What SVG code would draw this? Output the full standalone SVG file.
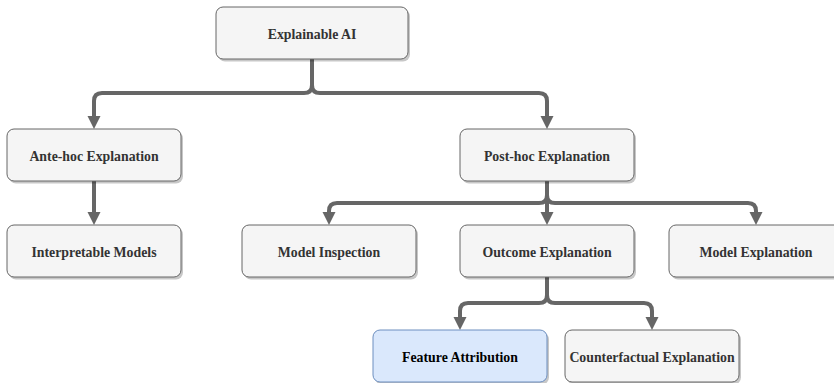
<svg xmlns="http://www.w3.org/2000/svg" width="834" height="383" viewBox="0 0 834 383">
<style>
.box{fill:#f5f5f5;stroke:#666666;stroke-width:1}
.blue{fill:#dae8fc;stroke:#6c8ebf;stroke-width:1}
.sh{fill:#000;opacity:0.22}
.lbl{font-family:"Liberation Serif","Times New Roman",serif;font-weight:bold;font-size:13.8px;fill:#333333;text-anchor:middle;dominant-baseline:central}
.edge{fill:none;stroke:#666666;stroke-width:4;marker-end:url(#arr)}
</style>
<defs>
<marker id="arr" markerUnits="userSpaceOnUse" markerWidth="14" markerHeight="14" refX="5" refY="6.5" orient="auto">
<path d="M0,0 L13,6.5 L0,13 Z" fill="#666666"/>
</marker>
</defs>
<rect width="834" height="383" fill="#ffffff"/>
<g id="connectors">
<path class="edge" d="M312,59 V85 Q312,93 304,93 H102 Q94,93 94,101 V121"/>
<path class="edge" d="M312,59 V85 Q312,93 320,93 H539 Q547,93 547,101 V121"/>
<path class="edge" d="M94,181 V217"/>
<path class="edge" d="M547,181 V195 Q547,203 539,203 H337 Q329,203 329,211 V217"/>
<path class="edge" d="M547,181 V217"/>
<path class="edge" d="M547,181 V195 Q547,203 555,203 H748 Q756,203 756,211 V217"/>
<path class="edge" d="M547,277 V295 Q547,303 539,303 H468 Q460,303 460,311 V322"/>
<path class="edge" d="M547,277 V295 Q547,303 555,303 H644 Q652,303 652,311 V322"/>
</g>
<g id="explainable-ai">
<rect class="sh" x="218" y="9.5" width="192" height="52" rx="7"/>
<rect class="box" x="216" y="7" width="192" height="52" rx="7"/>
<text class="lbl" x="312" y="34">Explainable AI</text>
</g>
<g id="ante-hoc">
<rect class="sh" x="9" y="131.5" width="174" height="52" rx="7"/>
<rect class="box" x="7" y="129" width="174" height="52" rx="7"/>
<text class="lbl" x="94" y="156">Ante-hoc Explanation</text>
</g>
<g id="post-hoc">
<rect class="sh" x="462" y="131.5" width="174" height="52" rx="7"/>
<rect class="box" x="460" y="129" width="174" height="52" rx="7"/>
<text class="lbl" x="547" y="156">Post-hoc Explanation</text>
</g>
<g id="interpretable-models">
<rect class="sh" x="9" y="227.5" width="174" height="52" rx="7"/>
<rect class="box" x="7" y="225" width="174" height="52" rx="7"/>
<text class="lbl" x="94" y="252">Interpretable Models</text>
</g>
<g id="model-inspection">
<rect class="sh" x="244" y="227.5" width="174" height="52" rx="7"/>
<rect class="box" x="242" y="225" width="174" height="52" rx="7"/>
<text class="lbl" x="329" y="252">Model Inspection</text>
</g>
<g id="outcome-explanation">
<rect class="sh" x="462" y="227.5" width="174" height="52" rx="7"/>
<rect class="box" x="460" y="225" width="174" height="52" rx="7"/>
<text class="lbl" x="547" y="252">Outcome Explanation</text>
</g>
<g id="model-explanation">
<rect class="sh" x="671" y="227.5" width="174" height="52" rx="7"/>
<rect class="box" x="669" y="225" width="174" height="52" rx="7"/>
<text class="lbl" x="756" y="252">Model Explanation</text>
</g>
<g id="feature-attribution">
<rect class="sh" x="375" y="332.5" width="174" height="52" rx="7"/>
<rect class="blue" x="373" y="330" width="174" height="52" rx="7"/>
<text class="lbl" x="460" y="357" style="fill:#000000">Feature Attribution</text>
</g>
<g id="counterfactual-explanation">
<rect class="sh" x="567" y="332.5" width="174" height="52" rx="7"/>
<rect class="box" x="565" y="330" width="174" height="52" rx="7"/>
<text class="lbl" x="652" y="357">Counterfactual Explanation</text>
</g>
</svg>
